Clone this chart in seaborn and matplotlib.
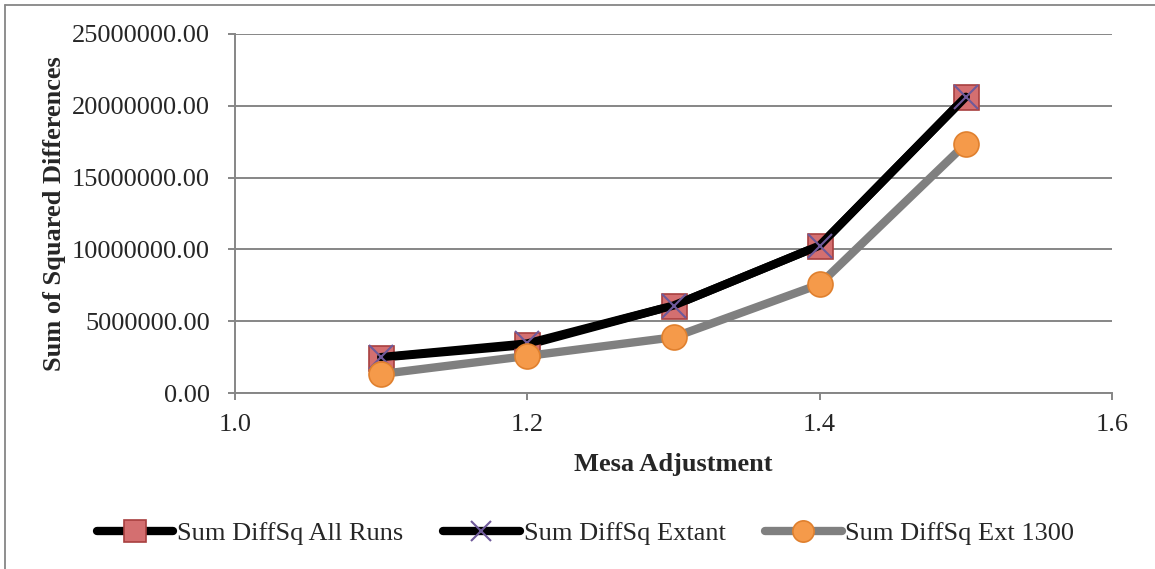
import numpy as np
import pandas as pd
import matplotlib
matplotlib.use('Agg')
import matplotlib.pyplot as plt
from matplotlib.lines import Line2D
import seaborn as sns

# values
mesa = [1.1, 1.2, 1.3, 1.4, 1.5]
all_runs = [2470000, 3350000, 6090000, 10270000, 20630000]
extant = [2500000, 3450000, 6090000, 10270000, 20630000]
ext_1300 = [1320000, 2580000, 3880000, 7570000, 17360000]

x_ticks = [1.0, 1.2, 1.4, 1.6]
y_ticks = [0, 5000000, 10000000, 15000000, 20000000, 25000000]

sns.set_style('white')
plt.rcParams['font.family'] = ['Liberation Serif', 'DejaVu Serif']

grey = '#868686'
fs = 19

fig = plt.figure(figsize=(11.55, 5.69), dpi=100)
ax = fig.add_axes([235 / 1155, 1 - 393 / 569, (1112 - 235) / 1155, (393 - 34) / 569])

sns.lineplot(x=mesa, y=all_runs, ax=ax, color='black', linewidth=6,
             marker='s', markersize=18, markerfacecolor='#d46f70',
             markeredgecolor='#a8403f', markeredgewidth=1.2,
             solid_capstyle='round', solid_joinstyle='round',
             label='Sum DiffSq All Runs', zorder=3)
sns.lineplot(x=mesa, y=extant, ax=ax, color='black', linewidth=6,
             marker='x', markersize=17, markeredgecolor='#6f5a9a',
             markeredgewidth=1.5, solid_capstyle='round', solid_joinstyle='round',
             label='Sum DiffSq Extant', zorder=4)
sns.lineplot(x=mesa, y=ext_1300, ax=ax, color='#808080', linewidth=6,
             marker='o', markersize=18, markerfacecolor='#f59a4a',
             markeredgecolor='#e0802e', markeredgewidth=1.2,
             solid_capstyle='round', solid_joinstyle='round',
             label='Sum DiffSq Ext 1300', zorder=5)

ax.set_xlim(1.0, 1.6)
ax.set_ylim(0, 25000000)
ax.set_xticks(x_ticks)
ax.set_xticklabels(['%.1f' % t for t in x_ticks])
ax.set_yticks(y_ticks)
ax.set_yticklabels(['%.2f' % t for t in y_ticks])

ax.yaxis.grid(True, color=grey, linewidth=1.4)
ax.xaxis.grid(False)
ax.set_axisbelow(True)
for side in ['top', 'right']:
    ax.spines[side].set_visible(False)
for side in ['left', 'bottom']:
    ax.spines[side].set_color(grey)
    ax.spines[side].set_linewidth(1.4)

ax.tick_params(axis='y', direction='out', length=5, width=1.4, color=grey,
               pad=13, labelsize=fs, left=True)
ax.tick_params(axis='x', direction='out', length=5, width=1.4, color=grey,
               pad=10, labelsize=fs, bottom=True)

ax.set_xlabel('Mesa Adjustment', fontsize=fs, fontweight='bold', labelpad=12)
ax.set_ylabel('Sum of Squared Differences', fontsize=fs, fontweight='bold')
ax.yaxis.set_label_coords(-0.193, 0.5)

ax.get_legend().remove()
handles, labels = ax.get_legend_handles_labels()
fig.legend(handles, labels, loc='center', bbox_to_anchor=(0.507, 1 - 533 / 569),
           ncol=3, frameon=False, fontsize=fs, handlelength=2.9,
           handletextpad=0.15, columnspacing=1.5, markerscale=0.85)

# chart border (top and left edges of the Excel chart area)
fig.add_artist(Line2D([5 / 1155, 1], [1 - 5 / 569, 1 - 5 / 569], color=grey, linewidth=1.3))
fig.add_artist(Line2D([5 / 1155, 5 / 1155], [0, 1 - 5 / 569], color=grey, linewidth=1.3))

fig.savefig('out.png', dpi=100)
